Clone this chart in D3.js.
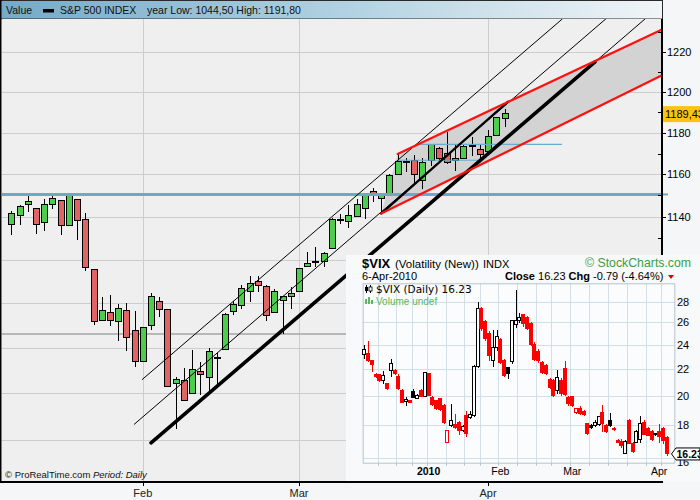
<!DOCTYPE html>
<html><head><meta charset="utf-8">
<script src="https://cdn.jsdelivr.net/npm/d3@7"></script>
<style>
body{margin:0;background:#f4f6f8;}
svg{display:block;font-family:"Liberation Sans",Arial,sans-serif;}
</style></head>
<body><svg id="c" width="700" height="500"></svg>
<script>
// ---------------- S&P 500 daily data (7 Jan 2010 - 6 Apr 2010) ----------------
const spxDates = ["2010-01-07","2010-01-08","2010-01-11","2010-01-12","2010-01-13","2010-01-14","2010-01-15","2010-01-19","2010-01-20","2010-01-21","2010-01-22","2010-01-25","2010-01-26","2010-01-27","2010-01-28","2010-01-29",
"2010-02-01","2010-02-02","2010-02-03","2010-02-04","2010-02-05","2010-02-08","2010-02-09","2010-02-10","2010-02-11","2010-02-12","2010-02-16","2010-02-17","2010-02-18","2010-02-19","2010-02-22","2010-02-23","2010-02-24","2010-02-25","2010-02-26",
"2010-03-01","2010-03-02","2010-03-03","2010-03-04","2010-03-05","2010-03-08","2010-03-09","2010-03-10","2010-03-11","2010-03-12","2010-03-15","2010-03-16","2010-03-17","2010-03-18","2010-03-19","2010-03-22","2010-03-23","2010-03-24","2010-03-25","2010-03-26","2010-03-29","2010-03-30","2010-03-31",
"2010-04-01","2010-04-05","2010-04-06"];
const spxOpen = [1136.27,1140.52,1145.96,1143.81,1137.31,1145.68,1147.72,1136.03,1147.95,1138.68,1115.49,1092.40,1095.80,1091.94,1096.93,1087.61,
1073.89,1090.05,1100.67,1097.25,1064.12,1065.51,1060.06,1069.68,1067.10,1075.95,1079.13,1096.14,1099.03,1105.49,1110.00,1107.49,1095.89,1101.24,1103.10,
1105.36,1117.01,1119.36,1119.12,1125.12,1138.40,1137.56,1140.22,1143.96,1151.71,1148.53,1150.83,1159.94,1166.13,1166.68,1157.25,1166.47,1172.70,1170.03,1167.58,1167.71,1173.75,1171.75,
1171.23,1178.71,1187.27];
const spxHigh = [1142.46,1145.39,1149.74,1143.81,1148.40,1150.41,1147.77,1150.45,1147.95,1141.58,1115.49,1102.97,1103.69,1099.51,1100.22,1096.45,
1089.38,1104.73,1102.72,1097.25,1067.13,1071.20,1079.28,1073.67,1080.04,1077.81,1095.67,1101.03,1108.24,1112.42,1112.29,1108.58,1106.42,1103.50,1107.24,
1116.11,1123.46,1125.64,1123.73,1139.38,1141.05,1145.37,1148.26,1150.24,1153.41,1150.98,1160.28,1169.84,1167.77,1169.20,1167.82,1174.72,1173.04,1180.69,1173.93,1174.85,1177.83,1174.56,
1181.43,1187.73,1191.80];
const spxLow = [1131.32,1136.22,1142.02,1131.77,1133.18,1143.80,1131.39,1135.77,1129.25,1114.84,1090.18,1092.40,1089.86,1083.11,1078.46,1071.59,
1073.89,1087.96,1093.97,1062.78,1044.50,1056.51,1060.06,1059.34,1060.59,1062.97,1079.13,1094.72,1097.48,1100.80,1105.38,1092.18,1095.50,1086.02,1097.56,
1105.36,1116.51,1116.58,1116.66,1125.12,1136.77,1134.90,1140.09,1138.99,1146.97,1141.45,1150.35,1159.94,1161.16,1155.33,1152.88,1163.83,1166.01,1165.09,1161.48,1167.71,1168.92,1165.77,
1170.69,1178.71,1182.77];
const spxClose = [1141.69,1144.98,1146.98,1136.22,1145.68,1148.46,1136.03,1150.23,1138.04,1116.48,1091.76,1096.78,1092.17,1097.50,1084.53,1073.87,
1089.19,1103.32,1097.28,1063.11,1066.19,1056.74,1070.52,1068.13,1078.47,1075.51,1094.87,1099.51,1106.75,1109.17,1108.01,1094.60,1105.24,1102.94,1104.49,
1115.71,1118.31,1118.79,1122.97,1138.70,1138.50,1140.45,1145.61,1150.24,1149.99,1150.51,1159.46,1166.21,1165.83,1159.90,1165.81,1174.17,1167.72,1165.73,1166.59,1173.22,1173.27,1169.43,
1178.10,1187.44,1189.43];

const monthLabels = ["Feb","Mar","Apr"];
const monthIdx = [16,35,58];          // first trading day of each month
const priceTicks = [1140,1160,1180,1200,1220];
const priceMinorTicks = [1130,1150,1170,1190,1210,1230];
const gridPrices = [1040,1060,1080,1100,1120,1140,1160,1180,1200,1220];

// drawn objects (trading-day index, price)
const channelIdx = [47,79.04,79.04,45];
const channelPrice = [1169.84,1231.1,1208.1,1141.45];
const redUpperIdx = [47,79.04],  redUpperPrice = [1169.84,1231.1];
const redLowerIdx = [45,79.04],  redLowerPrice = [1141.45,1208.1];
const lineAIdx = [15.94,67.03],  lineAPrice = [1066.1,1236.7];
const lineBIdx = [14.96,72.31],  lineBPrice = [1046.6,1236.7];
const lineBMidIdx = [45,60.43],  lineBMidPrice = [1141.45,1195.3];
const lineCIdx = [17.0,71.01],   lineCPrice = [1038.6,1215.0];
const lineCExtIdx = [71.01,77.09], lineCExtPrice = [1215.0,1236.7];
const blueHLevel = 1150.5;
const grayHLevel = 1086.2;
const blueShortLevels = [1174.5,1166.8];
const blueShortFrom = [49.36,46.92];
const blueShortTo = [66.99,57.26];

// ---------------- VIX daily (8 Dec 2009 - 6 Apr 2010) ----------------
const vixOpen = [23.19,23.24,22.65,21.54,21.54,21.11,20.86,21.88,21.88,21.44,20.37,19.60,19.64,20.29,19.83,20.37,19.95,21.62,19.88,19.64,19.76,19.30,16.92,17.94,18.04,18.19,17.63,18.63,18.52,18.63,22.20,27.34,26.07,25.02,22.65,23.73,24.44,22.65,22.08,22.57,25.76,26.17,26.70,26.45,25.91,24.01,23.46,22.52,22.26,21.16,21.11,20.37,21.11,22.00,19.88,19.92,18.81,19.07,18.92,18.08,17.98,17.98,18.04,18.85,17.98,18.30,17.81,17.06,17.00,16.24,18.30,16.86,16.92,17.10,18.15,17.80,17.60,17.40,17.60,17.80,17.20];
const vixHigh = [24.01,24.30,22.75,21.70,21.60,21.88,20.95,22.78,22.00,21.60,20.45,19.88,19.70,20.49,20.10,20.45,21.80,21.70,20.00,19.70,19.85,19.40,17.70,19.41,18.74,18.25,18.00,18.96,18.90,22.30,28.00,27.50,26.20,25.20,25.31,25.30,24.60,22.80,22.15,26.20,29.20,26.90,26.80,26.60,26.00,24.20,23.60,22.60,22.40,21.30,21.20,21.93,21.30,22.65,20.00,20.00,19.10,19.30,19.00,18.15,18.05,18.30,18.60,19.37,18.05,18.79,17.90,17.15,17.10,17.05,18.41,16.95,17.70,18.60,18.30,17.90,17.70,17.50,18.10,17.90,17.30];
const vixLow = [22.78,22.55,21.75,21.30,21.00,20.86,20.40,21.36,21.55,20.40,19.45,19.30,19.45,19.85,19.80,19.90,19.90,19.95,19.30,19.00,18.95,18.10,16.90,17.90,17.77,17.36,17.55,17.26,18.40,18.50,22.10,25.20,24.30,22.65,22.13,23.50,22.40,21.40,21.24,22.40,25.46,25.90,25.60,25.30,23.90,22.60,22.50,21.60,21.50,20.50,19.90,20.12,20.00,20.00,19.30,19.20,18.75,18.63,18.60,17.40,17.75,17.90,17.95,17.57,17.50,17.90,17.60,16.85,16.60,16.20,16.80,16.30,16.85,16.90,17.35,17.30,17.00,17.30,16.90,16.80,16.10];
const vixClose = [23.60,22.65,22.39,21.41,21.11,21.49,20.49,22.44,21.67,20.49,19.53,19.71,19.53,19.88,20.00,19.95,21.72,20.00,19.37,19.07,19.02,18.19,17.63,18.30,17.87,17.67,17.92,17.46,18.68,22.20,27.34,25.46,24.58,23.05,23.73,24.73,22.52,21.49,21.62,26.14,26.20,26.48,25.90,25.46,24.01,22.78,22.65,21.75,21.62,20.61,20.00,21.36,20.12,20.10,19.41,19.30,19.07,18.74,18.72,17.46,17.83,18.19,18.57,18.08,17.57,17.98,17.73,16.92,16.70,16.98,16.86,16.37,17.57,18.10,17.40,17.35,17.10,17.45,17.30,17.02,16.23];
const vixTicks = [16,18,20,22,24,26,28];
const vixMonthLabels = ["2010","Feb","Mar","Apr"];
const vixMonthIdx = [17,36,55,78];
const vixWeekIdx = [4,9,13,17,22,27,31,36,41,46,50,55,60,65,70,75,79];

// ---------------- drawing ----------------
const svg = d3.select("#c");
const P = {l:2, r:662, t:19, b:482};
const x = d3.scaleLinear().domain([0, spxDates.length-1]).range([11.3, 504.5]);
const y = d3.scaleLog().domain([1022, 1236.7]).range([P.b, P.t]);

const defs = svg.append("defs");
const g1 = defs.append("linearGradient").attr("id","hdr");
g1.append("stop").attr("offset","0").attr("stop-color","#74aac8");
g1.append("stop").attr("offset","0.55").attr("stop-color","#b5d4e3");
g1.append("stop").attr("offset","1").attr("stop-color","#f1f5f7");
defs.append("clipPath").attr("id","pc").append("rect")
  .attr("x",P.l).attr("y",P.t).attr("width",P.r-P.l).attr("height",P.b-P.t);

svg.append("rect").attr("width",700).attr("height",500).attr("fill","#f4f6f8");
// header
svg.append("rect").attr("x",0.5).attr("y",0.5).attr("width",P.r).attr("height",P.t-0.5)
  .attr("fill","url(#hdr)").attr("stroke","#2a2a2a").attr("stroke-width",1);
const ht = svg.append("g").attr("font-size","10.5px").attr("fill","#111");
ht.append("text").attr("x",6).attr("y",14).text("Value");
ht.append("rect").attr("x",43).attr("y",9).attr("width",11).attr("height",3.5).attr("fill","#000");
ht.append("text").attr("x",60).attr("y",14).text("S&P 500 INDEX");
ht.append("text").attr("x",147).attr("y",14).text("year Low: 1044,50 High: 1191,80");

// plot bg
svg.append("rect").attr("x",P.l).attr("y",P.t).attr("width",P.r-P.l).attr("height",P.b-P.t).attr("fill","#efefef");
const pg = svg.append("g").attr("clip-path","url(#pc)");

// grid
pg.selectAll(".hg").data(gridPrices).join("line")
  .attr("x1",P.l).attr("x2",P.r).attr("y1",d=>Math.round(y(d))+0.5).attr("y2",d=>Math.round(y(d))+0.5)
  .attr("stroke","#cdcdcd").attr("stroke-width",1);
pg.selectAll(".vg").data(monthIdx).join("line")
  .attr("x1",d=>Math.round(x(d))+0.5).attr("x2",d=>Math.round(x(d))+0.5).attr("y1",P.t).attr("y2",P.b)
  .attr("stroke","#cdcdcd").attr("stroke-width",1);

// channel fill
pg.append("polygon")
  .attr("points", channelIdx.map((d,i)=>[x(d), y(channelPrice[i])].join(",")).join(" "))
  .attr("fill","#d3d3d3");

// horizontal levels
pg.append("line").attr("x1",P.l).attr("x2",P.r).attr("y1",y(grayHLevel)).attr("y2",y(grayHLevel))
  .attr("stroke","#a6a6a6").attr("stroke-width",1.6);

// candles
const cg = pg.append("g").attr("shape-rendering","crispEdges");
const idx = d3.range(spxDates.length);
cg.selectAll(".w").data(idx).join("line")
  .attr("x1",i=>Math.round(x(i))+0.5).attr("x2",i=>Math.round(x(i))+0.5)
  .attr("y1",i=>y(spxHigh[i])).attr("y2",i=>y(spxLow[i])).attr("stroke","#000");
cg.selectAll(".b").data(idx).join("rect")
  .attr("x",i=>Math.round(x(i))-2.5).attr("width",6)
  .attr("y",i=>y(Math.max(spxOpen[i],spxClose[i])))
  .attr("height",i=>Math.max(1,y(Math.min(spxOpen[i],spxClose[i]))-y(Math.max(spxOpen[i],spxClose[i]))))
  .attr("fill",i=>spxClose[i]>=spxOpen[i]?"#4ccd4c":"#df6464")
  .attr("stroke","#000").attr("stroke-width",1);

// blue levels
pg.append("line").attr("x1",P.l).attr("x2",P.r).attr("y1",y(blueHLevel)).attr("y2",y(blueHLevel))
  .attr("stroke","#6fa8c6").attr("stroke-width",3);
svg.append("line").attr("x1",P.r).attr("x2",668).attr("y1",y(blueHLevel)).attr("y2",y(blueHLevel))
  .attr("stroke","#6fa8c6").attr("stroke-width",2);
pg.selectAll(".bs").data(blueShortLevels).join("line")
  .attr("x1",(d,i)=>x(blueShortFrom[i])).attr("x2",(d,i)=>x(blueShortTo[i]))
  .attr("y1",d=>y(d)).attr("y2",d=>y(d)).attr("stroke","#6aaccb").attr("stroke-width",1.2);

// trend lines
function seg(ix, pr, color, w){
  pg.append("line").attr("x1",x(ix[0])).attr("y1",y(pr[0])).attr("x2",x(ix[1])).attr("y2",y(pr[1]))
    .attr("stroke",color).attr("stroke-width",w).attr("stroke-linecap","round");
}
seg(lineAIdx, lineAPrice, "#000", 1);
seg(lineBIdx, lineBPrice, "#000", 1);
seg(lineBMidIdx, lineBMidPrice, "#000", 2.2);
seg(lineCIdx, lineCPrice, "#000", 3.6);
seg(lineCExtIdx, lineCExtPrice, "#000", 1);
seg(redUpperIdx, redUpperPrice, "#ff1010", 2.2);
seg(redLowerIdx, redLowerPrice, "#ff1010", 2.2);

// right axis
const ax = svg.append("g").attr("font-size","11px").attr("fill","#000");
ax.append("line").attr("x1",P.r).attr("x2",P.r).attr("y1",P.t).attr("y2",P.b).attr("stroke","#000").attr("stroke-width",2);
ax.selectAll(".mt").data(priceTicks).join("line")
  .attr("x1",P.r).attr("x2",P.r+4).attr("y1",d=>Math.round(y(d))+0.5).attr("y2",d=>Math.round(y(d))+0.5).attr("stroke","#000");
ax.selectAll(".nt").data(priceMinorTicks).join("line")
  .attr("x1",P.r-4).attr("x2",P.r).attr("y1",d=>Math.round(y(d))+0.5).attr("y2",d=>Math.round(y(d))+0.5).attr("stroke","#000");
ax.selectAll(".tl").data(priceTicks).join("text")
  .attr("x",P.r+5).attr("y",d=>y(d)+4).text(d=>d);
// last price tag
const lastC = spxClose[spxClose.length-1];
ax.append("rect").attr("x",P.r+1).attr("y",y(lastC)-7.5).attr("width",40).attr("height",16).attr("fill","#ffc20e");
ax.append("text").attr("x",P.r+3).attr("y",y(lastC)+4.5).text(d3.format(".2f")(lastC).replace(".",","));

// bottom axis
svg.append("line").attr("x1",0).attr("x2",P.r+1).attr("y1",P.b).attr("y2",P.b).attr("stroke","#000").attr("stroke-width",2);
svg.append("line").attr("x1",0.5).attr("x2",0.5).attr("y1",0).attr("y2",P.b).attr("stroke","#000").attr("stroke-width",2);

// ---------------- VIX inset ----------------
const I = {l:346, t:255, r:700, b:481};
const VP = {l:362.7, t:283.3, r:674.3, b:462.7};
const vx = d3.scaleLinear().domain([0,80]).range([364.3,666.7]);
const vy = d3.scaleLog().domain([15.73,29.9]).range([VP.b, VP.t]);
const ig = svg.append("g");
ig.append("rect").attr("x",I.l).attr("y",I.t).attr("width",I.r-I.l).attr("height",I.b-I.t).attr("fill","#f7f9fb");
ig.append("rect").attr("x",VP.l).attr("y",VP.t).attr("width",VP.r-VP.l).attr("height",VP.b-VP.t).attr("fill","#fafcfd");
ig.selectAll(".vh").data(vixTicks).join("line")
  .attr("x1",VP.l).attr("x2",VP.r).attr("y1",d=>Math.round(vy(d))+0.5).attr("y2",d=>Math.round(vy(d))+0.5)
  .attr("stroke","#d3dfe7");
ig.selectAll(".vv").data(vixWeekIdx).join("line")
  .attr("x1",d=>Math.round(vx(d-0.5))+0.5).attr("x2",d=>Math.round(vx(d-0.5))+0.5).attr("y1",VP.t).attr("y2",VP.b)
  .attr("stroke","#d3dfe7");
ig.append("rect").attr("x",VP.l+0.5).attr("y",VP.t+0.5).attr("width",VP.r-VP.l).attr("height",VP.b-VP.t)
  .attr("fill","none").attr("stroke","#b9c3ca");
// ticks under plot
ig.selectAll(".vtk").data(vixWeekIdx).join("line")
  .attr("x1",d=>Math.round(vx(d-0.5))+0.5).attr("x2",d=>Math.round(vx(d-0.5))+0.5).attr("y1",VP.b).attr("y2",VP.b+3)
  .attr("stroke","#b9c3ca");

const vidx = d3.range(vixClose.length);
const vcol = i => (i===0 || vixClose[i]>=vixClose[i-1]) ? "#000" : "#ff0000";
const vc = ig.append("g").attr("shape-rendering","crispEdges");
vc.selectAll(".vw").data(vidx).join("line")
  .attr("x1",i=>Math.round(vx(i))+0.5).attr("x2",i=>Math.round(vx(i))+0.5)
  .attr("y1",i=>vy(vixHigh[i])).attr("y2",i=>vy(vixLow[i])).attr("stroke",vcol);
vc.selectAll(".vb").data(vidx).join("rect")
  .attr("x",i=>Math.round(vx(i))-1.5).attr("width",3)
  .attr("y",i=>vy(Math.max(vixOpen[i],vixClose[i])))
  .attr("height",i=>Math.max(1,vy(Math.min(vixOpen[i],vixClose[i]))-vy(Math.max(vixOpen[i],vixClose[i]))))
  .attr("fill",i=>vixClose[i]>vixOpen[i]?"#fafcfd":vcol(i))
  .attr("stroke",vcol).attr("stroke-width",1);

// VIX axis labels (the lowest one sits partly under the last-value tag)
ig.selectAll(".vtl").data(vixTicks).join("text")
  .attr("x",677).attr("y",d=>vy(d)+(d===16?8:4)).attr("font-size","11px").text(d=>d);
const lastV = vixClose[vixClose.length-1];
ig.append("path")
  .attr("d",`M671.5,${vy(lastV)} L676,${vy(lastV)-6} L700,${vy(lastV)-6} L700,${vy(lastV)+6} L676,${vy(lastV)+6} Z`)
  .attr("fill","#fff").attr("stroke","#000");
ig.append("text").attr("x",676.5).attr("y",vy(lastV)+4).attr("font-size","10.5px").attr("font-weight","bold").text(lastV.toFixed(2));
ig.selectAll(".vml").data(vixMonthLabels).join("text")
  .attr("x",(d,i)=>vx(vixMonthIdx[i])).attr("y",475).attr("text-anchor","middle").attr("font-size","10.5px")
  .attr("font-weight",(d,i)=>i===0?"bold":"normal").text(d=>d);

// VIX header texts
ig.append("text").attr("x",362).attr("y",268).attr("font-size","13px").attr("font-weight","bold").text("$VIX");
ig.append("text").attr("x",395).attr("y",268).attr("font-size","11.5px").text("(Volatility (New))");
ig.append("text").attr("x",483).attr("y",268).attr("font-size","11px").text("INDX");
ig.append("text").attr("x",585).attr("y",267).attr("font-size","12.3px").attr("fill","#3f9d3f").text("© StockCharts.com");
ig.append("text").attr("x",362).attr("y",280).attr("font-size","11px").text("6-Apr-2010");
const ct = ig.append("text").attr("x",505).attr("y",280).attr("font-size","11px");
ct.append("tspan").attr("font-weight","bold").text("Close");
ct.append("tspan").text(" 16.23 ");
ct.append("tspan").attr("font-weight","bold").text("Chg");
ct.append("tspan").text(" -0.79 (-4.64%)");
ig.append("path").attr("d","M668,275 L674,275 L671,279 Z").attr("fill","#e00000");
// legend inside inset
const lg = ig.append("g");
lg.append("line").attr("x1",366.5).attr("x2",366.5).attr("y1",285).attr("y2",293).attr("stroke","#000");
lg.append("rect").attr("x",365).attr("y",287).attr("width",3).attr("height",4).attr("fill","#000");
lg.append("line").attr("x1",370.5).attr("x2",370.5).attr("y1",285).attr("y2",293).attr("stroke","#000");
lg.append("rect").attr("x",369).attr("y",287).attr("width",3).attr("height",4).attr("fill","#fff").attr("stroke","#000").attr("stroke-width",0.8);
lg.append("text").attr("x",376).attr("y",292.5).attr("font-size","10.5px").attr("font-family","DejaVu Sans").text("$VIX (Daily) 16.23");
lg.append("rect").attr("x",365).attr("y",299).attr("width",2).attr("height",5).attr("fill","#5cb85c");
lg.append("rect").attr("x",368).attr("y",297).attr("width",2).attr("height",7).attr("fill","#5cb85c");
lg.append("rect").attr("x",371).attr("y",300).attr("width",2).attr("height",4).attr("fill","#5cb85c");
lg.append("text").attr("x",376).attr("y",305).attr("font-size","10px").attr("fill","#5cb85c").text("Volume undef");

// main bottom axis over inset
svg.append("line").attr("x1",0).attr("x2",P.r+1).attr("y1",P.b).attr("y2",P.b).attr("stroke","#000").attr("stroke-width",2);
svg.selectAll(".mtk").data(monthIdx).join("line")
  .attr("x1",d=>Math.round(x(d))+0.5).attr("x2",d=>Math.round(x(d))+0.5).attr("y1",P.b).attr("y2",P.b+4).attr("stroke","#000");
svg.selectAll(".mlb").data(monthLabels).join("text")
  .attr("x",(d,i)=>x(monthIdx[i])).attr("y",497).attr("text-anchor","middle").attr("font-size","11px").attr("fill","#222").text(d=>d);

// footer
const ft = svg.append("text").attr("x",5).attr("y",478).attr("font-size","9.5px").attr("fill","#111");
ft.append("tspan").text("© ProRealTime.com  ");
ft.append("tspan").attr("font-style","italic").text("Period: Daily");
</script>
</body></html>
